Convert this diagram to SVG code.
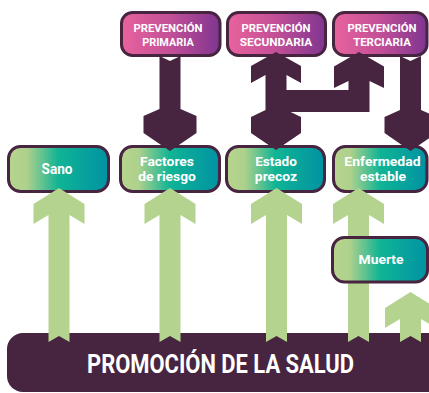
<svg xmlns="http://www.w3.org/2000/svg" width="429" height="393" viewBox="0 0 429 393">
<defs>
<linearGradient id="pink" x1="0" y1="0" x2="1" y2="0">
<stop offset="0" stop-color="#e8639d"/>
<stop offset="0.5" stop-color="#c24f97"/>
<stop offset="1" stop-color="#7f3590"/>
</linearGradient>
<linearGradient id="green" x1="0" y1="0" x2="1" y2="0">
<stop offset="0" stop-color="#b6d48e"/>
<stop offset="0.18" stop-color="#afd18c"/>
<stop offset="0.5" stop-color="#10b495"/>
<stop offset="1" stop-color="#0092a3"/>
</linearGradient>
<style>
.top{fill:url(#pink);stroke:#47243f;stroke-width:3}
.mid{fill:url(#green);stroke:#47243f;stroke-width:3}
.t{font-family:"Liberation Sans Narrow","Roboto","Liberation Sans",sans-serif;font-weight:bold;fill:#ffffff;text-anchor:middle}
.ts{font-size:11px}
.tm{font-size:13px}
.gr{fill:#b3d38f}
.dk{fill:#47243f}
</style>
</defs>
<g id="promocion">
<rect x="7" y="333" width="440" height="59" rx="16" fill="#47243f"/>
<text class="t" x="220.5" y="373.3" font-size="25" textLength="267" lengthAdjust="spacingAndGlyphs">PROMOCIÓN DE LA SALUD</text>
</g>
<g id="prev-primaria">
<rect class="top" x="121.5" y="12.5" width="98.5" height="43" rx="11"/>
<text class="t ts" x="168" y="32.3" textLength="69" lengthAdjust="spacingAndGlyphs">PREVENCIÓN</text>
<text class="t ts" x="168" y="45.5" textLength="51.6" lengthAdjust="spacingAndGlyphs">PRIMARIA</text>
</g>
<g id="prev-secundaria">
<rect class="top" x="227.5" y="12.5" width="98" height="43" rx="11"/>
<text class="t ts" x="276" y="32.3" textLength="69" lengthAdjust="spacingAndGlyphs">PREVENCIÓN</text>
<text class="t ts" x="276" y="45.5" textLength="72.7" lengthAdjust="spacingAndGlyphs">SECUNDARIA</text>
</g>
<g id="prev-terciaria">
<rect class="top" x="333.5" y="12.5" width="93.5" height="43" rx="11"/>
<text class="t ts" x="382" y="32.3" textLength="69" lengthAdjust="spacingAndGlyphs">PREVENCIÓN</text>
<text class="t ts" x="382" y="45.5" textLength="57.7" lengthAdjust="spacingAndGlyphs">TERCIARIA</text>
</g>
<g id="sano">
<rect class="mid" x="8.5" y="146.5" width="100" height="45" rx="12"/>
<text class="t" x="57" y="174.3" font-size="15" textLength="31" lengthAdjust="spacingAndGlyphs">Sano</text>
</g>
<g id="factores">
<rect class="mid" x="120.5" y="146.5" width="99" height="45" rx="12"/>
<text class="t tm" x="167" y="166" textLength="54" lengthAdjust="spacingAndGlyphs">Factores</text>
<text class="t tm" x="167" y="181.3" textLength="57.7" lengthAdjust="spacingAndGlyphs">de riesgo</text>
</g>
<g id="estado">
<rect class="mid" x="226.5" y="146.5" width="98" height="45" rx="12"/>
<text class="t tm" x="276" y="166" textLength="41.7" lengthAdjust="spacingAndGlyphs">Estado</text>
<text class="t tm" x="276" y="181.3" textLength="42.3" lengthAdjust="spacingAndGlyphs">precoz</text>
</g>
<g id="enfermedad">
<rect class="mid" x="333.5" y="146.5" width="93.5" height="45" rx="12"/>
<text class="t tm" x="382.5" y="166" textLength="76.3" lengthAdjust="spacingAndGlyphs">Enfermedad</text>
<text class="t tm" x="383" y="181.3" textLength="46" lengthAdjust="spacingAndGlyphs">estable</text>
</g>
<g id="connectors">
<polygon class="gr" points="59,188 84.5,204 84.5,224 69.5,215 69.5,342 59,336 48.5,342 48.5,215 33.5,224 33.5,204"/>
<polygon class="gr" points="170,188 195.5,204 195.5,224 180.5,215 180.5,342 170,336 159.5,342 159.5,215 144.5,224 144.5,204"/>
<polygon class="gr" points="276.5,188 302,204 302,224 287,215 287,342 276.5,336 266,342 266,215 251,224 251,204"/>
<polygon class="gr" points="358.5,188 384,204 384,224 369,215 369,342 358.5,336 348,342 348,215 333,224 333,204"/>
<polygon class="gr" points="410.5,292 436,308 436,328 421,319 421,342 410.5,336 400,342 400,319 385,328 385,308"/>
<polygon class="dk" points="159.5,56 170,61 180.5,56 180.5,109 196.5,116 196.5,133 170,151 143.5,133 143.5,116 159.5,109"/>
<polygon class="dk" points="276,52 301,66 301,83 286.5,75 286.5,110 301,117 301,133 276,150 251,133 251,117 265.5,110 265.5,75 251,83 251,66"/>
<rect class="dk" x="286" y="90" width="64" height="22"/>
<polygon class="dk" points="359,52 384,66.5 384,88 369.5,81 369.5,112 348.5,112 348.5,81 334,88 334,66.5"/>
<polygon class="dk" points="400,56 410.5,61 421,56 421,110 436.5,117 436.5,133 410.5,151 384.5,133 384.5,117 400,110"/>
</g>
<g id="muerte">
<rect class="mid" x="332.5" y="237.5" width="95" height="44.5" rx="12"/>
<text class="t" x="381" y="264.3" font-size="13.5" textLength="45" lengthAdjust="spacingAndGlyphs">Muerte</text>
</g>
</svg>
